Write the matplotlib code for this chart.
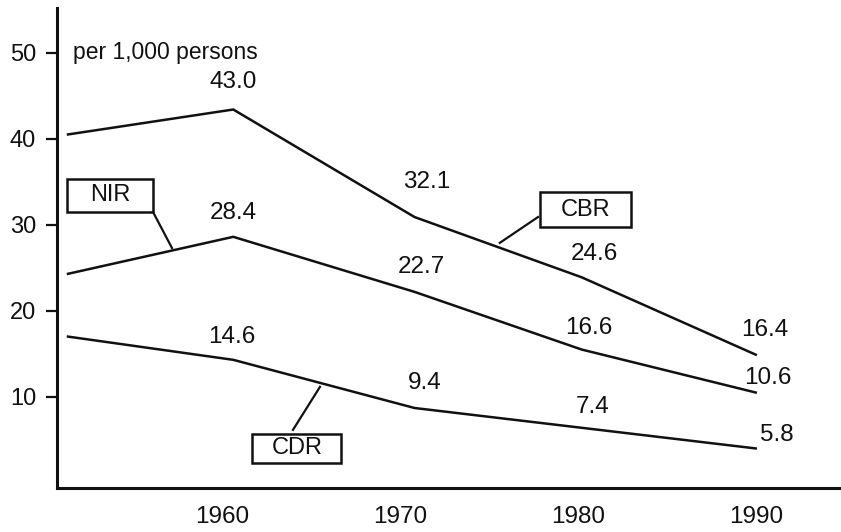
import matplotlib
matplotlib.use("Agg")
import matplotlib.pyplot as plt
from matplotlib.patches import Rectangle

# --- data ---
years = [1951.3, 1960.6, 1970.8, 1980.2, 1990.0]
cbr = [40.5, 43.4, 30.9, 23.9, 14.9]
nir = [24.3, 28.6, 22.2, 15.5, 10.5]
cdr = [17.0, 14.3, 8.7, 6.4, 4.0]

cbr_labels = ["43.0", "32.1", "24.6", "16.4"]
nir_labels = ["28.4", "22.7", "16.6", "10.6"]
cdr_labels = ["14.6", "9.4", "7.4", "5.8"]

x_ticks = [1960, 1970, 1980, 1990]
y_ticks = [10, 20, 30, 40, 50]
unit_text = "per 1,000 persons"

# label positions (data coords)
cbr_lab_pos = [(1960.6, 46.6), (1971.5, 35.0), (1980.9, 26.6), (1990.5, 17.8)]
nir_lab_pos = [(1960.6, 31.4), (1971.2, 25.1), (1980.6, 18.0), (1990.7, 12.2)]
cdr_lab_pos = [(1960.5, 17.0), (1971.4, 11.6), (1980.8, 8.8), (1991.2, 5.6)]

# name boxes: (text, text pos, box x0, x1, y0, y1, leader start, leader end)
boxes = [
    ("NIR", (1953.7, 33.5), 1951.24, 1956.08, 31.5, 35.35, (1956.08, 31.5), (1957.15, 27.3)),
    ("CBR", (1980.4, 31.7), 1977.86, 1982.98, 29.77, 33.84, (1977.75, 30.9), (1975.6, 27.9)),
    ("CDR", (1964.2, 4.1), 1961.65, 1966.66, 2.33, 5.70, (1963.96, 6.16), (1965.48, 11.16)),
]

INK = "#111111"
plt.rcParams["font.family"] = ["Liberation Sans", "DejaVu Sans"]

fig = plt.figure(figsize=(8.41, 5.32), dpi=100)
ax = fig.add_axes([57 / 841, 1 - 488 / 532, 1 - 57 / 841, (488 - 8) / 532])

for vals in (cbr, nir, cdr):
    ax.plot(years, vals, color=INK, lw=1.8, solid_joinstyle="miter")

for labs, pos in ((cbr_labels, cbr_lab_pos), (nir_labels, nir_lab_pos), (cdr_labels, cdr_lab_pos)):
    for t, (x, y) in zip(labs, pos):
        ax.text(x, y, t, ha="center", va="center", fontsize=17.5, color=INK)

for name, tpos, x0, x1, y0, y1, p0, p1 in boxes:
    ax.add_patch(Rectangle((x0, y0), x1 - x0, y1 - y0, fill=False, ec=INK, lw=1.8))
    ax.text(tpos[0], tpos[1], name, ha="center", va="center", fontsize=17, color=INK)
    ax.plot([p0[0], p1[0]], [p0[1], p1[1]], color=INK, lw=1.6)

ax.text(1951.6, 50.0, unit_text, ha="left", va="center", fontsize=16.5, color=INK)

ax.set_xlim(1950.68, 1994.8)
ax.set_ylim(-0.6, 55.2)
ax.set_xticks(x_ticks)
ax.set_xticklabels([str(v) for v in x_ticks])
ax.set_yticks(y_ticks)
ax.tick_params(axis="x", length=0, pad=13, labelsize=17.5, colors=INK)
ax.tick_params(axis="y", length=8, width=1.6, pad=7, labelsize=17, colors=INK, direction="out")

for s in ("top", "right"):
    ax.spines[s].set_visible(False)
for s in ("left", "bottom"):
    ax.spines[s].set_linewidth(2.2)
    ax.spines[s].set_color(INK)

fig.savefig("out.png", dpi=100)
